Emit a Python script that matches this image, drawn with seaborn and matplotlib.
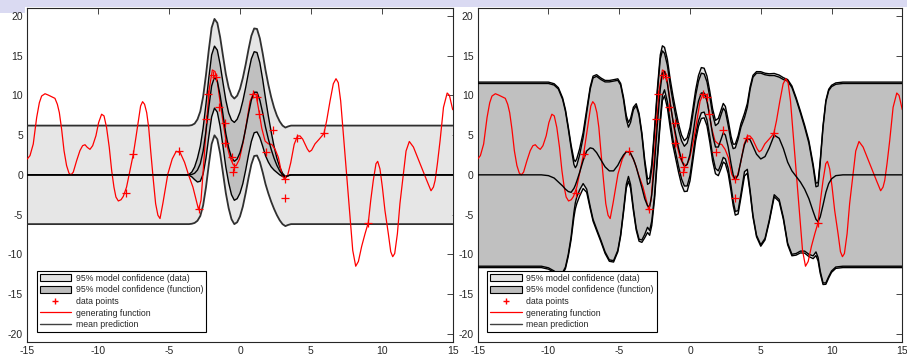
import numpy as np
import matplotlib
matplotlib.use("Agg")
import matplotlib.pyplot as plt
import seaborn as sns
import pandas as pd
from matplotlib.patches import Patch, Rectangle
from matplotlib.lines import Line2D

sns.set_theme(style="white")
plt.rcParams['font.family'] = ['Liberation Sans', 'DejaVu Sans']
plt.rcParams['axes.unicode_minus'] = False

# ---------------- data ----------------
gen_x = [-15, -14.81, -14.58, -14.34, -14.15, -13.99, -13.75, -13.52, -13.28, -13.05, -12.88, -12.74,
         -12.58, -12.41, -12.23, -12.06, -11.92, -11.76, -11.52, -11.29, -11.10, -10.93, -10.77,
         -10.58, -10.39, -10.16, -9.97, -9.76, -9.59, -9.41, -9.22, -9.05, -8.89, -8.75, -8.58,
         -8.39, -8.23, -8.0, -7.76, -7.52, -7.34, -7.17, -7.01, -6.87, -6.73, -6.58, -6.44, -6.30,
         -6.11, -5.95, -5.79, -5.64, -5.44, -5.09, -4.78, -4.5, -4.22, -3.91, -3.61, -3.32, -3.09,
         -2.92, -2.75, -2.58, -2.35, -2.16, -1.95, -1.76, -1.6, -1.41, -1.17, -0.94, -0.7, -0.47,
         -0.28, -0.04, 0.24, 0.48, 0.71, 0.95, 1.13, 1.3, 1.53, 1.77, 2.0, 2.24, 2.48, 2.71, 2.95,
         3.13, 3.35, 3.58, 3.82, 4.05, 4.23, 4.42, 4.58, 4.75, 4.89, 5.05, 5.29, 5.59, 5.92, 6.11,
         6.35, 6.58, 6.77, 6.93, 7.10, 7.29, 7.52, 7.76, 7.95, 8.16, 8.35, 8.58, 8.82, 9.05, 9.22,
         9.40, 9.59, 9.71, 9.87, 10.04, 10.22, 10.46, 10.63, 10.77, 10.91, 11.1, 11.28, 11.52,
         11.71, 11.94, 12.23, 12.70, 13.17, 13.47, 13.64, 13.76, 13.92, 14.11, 14.35, 14.61, 14.77,
         14.96, 15]
gen_y = [2.0, 2.42, 3.88, 7.21, 9.08, 9.92, 10.21, 10.04, 9.83, 9.63, 8.88, 7.83,
         5.75, 3.04, 1.17, 0.21, 0.0, 0.33, 1.79, 3.04, 3.67, 3.79, 3.46,
         3.21, 3.67, 4.92, 6.58, 7.63, 7.42, 5.96, 3.46, 0.54, -1.54, -2.79, -3.29,
         -3.13, -2.71, -1.54, 0.54, 2.63, 4.71, 6.79, 8.67, 9.21, 8.88, 7.83, 5.96, 3.04,
         -0.71, -3.63, -5.08, -5.5, -3.6, 0.1, 2.0, 2.96, 2.8, 1.58, -0.1, -1.54, -3.2,
         -4.4, -3.2, 0.9, 6.75, 10.9, 13.2, 13.0, 11.75, 9.25, 6.33, 3.83, 2.17, 1.25,
         1.13, 1.96, 4.25, 6.75, 9.25, 10.3, 10.08, 8.4, 5.9, 4.25, 3.9, 3.83, 3.2, 2.17, 0.08,
         -0.54, -0.13, 1.54, 3.83, 4.88, 4.9, 4.5, 3.9, 3.25, 2.9, 3.1, 3.9, 4.5, 5.2, 6.8,
         9.3, 11.46, 12.1, 11.6, 9.3, 5.1, 0.1, -5.3, -9.5, -11.5, -10.9, -9.0, -7.4, -6.0, -3.2,
         -0.7, 1.4, 1.7, 0.75, -1.54, -4.46, -7.4, -9.67, -10.3, -9.9, -7.4, -3.6, 0.1,
         3.0, 4.2, 3.5, 1.4, -0.7, -2.0, -1.54, -0.7, 1.4, 4.3, 8.5, 10.3, 10.0,
         8.5, 8.2]

pts_x = [-8.04, -7.52, -4.3, -2.89, -2.40, -2.23, -1.92, -1.70, -1.50, -1.07, -1.05, -0.54,
         -0.39, -0.51, 0.93, 1.18, 1.31, 1.82, 2.31, 3.19, 3.19, 4.05, 5.94, 9.05]
pts_y = [-2.25, 2.6, 3.0, -4.3, 7.0, 10.2, 12.6, 12.3, 8.5, 6.5, 4.0, 2.3,
         1.0, 0.3, 10.2, 9.8, 7.6, 2.9, 5.7, -0.5, -2.9, 4.6, 5.3, -6.0]

# left model: mean and half-width of the function band; noise half-width of the data band
L_x = [-15, -4.0, -3.8, -3.6, -3.4, -3.2, -3.0, -2.8, -2.6, -2.4, -2.2, -2.0, -1.8, -1.6, -1.4, -1.2,
       -1.0, -0.8, -0.6, -0.4, -0.2, 0.0, 0.2, 0.4, 0.6, 0.8, 1.0, 1.2, 1.4, 1.6, 1.8, 2.0, 2.2,
       2.4, 2.6, 2.8, 3.0, 3.2, 3.4, 3.6, 15]
L_mean = [0, 0, 0, 0, 0.05, 0.2, 0.6, 1.4, 3.0, 5.5, 8.5, 11.2, 12.3, 11.8, 10.0, 7.6,
          5.2, 3.4, 2.2, 1.7, 2.0, 2.8, 4.1, 5.8, 7.7, 9.4, 10.4, 10.4, 9.4, 7.8, 6.0, 4.5, 3.2,
          2.1, 1.2, 0.5, 0.0, -0.25, -0.1, 0, 0]
L_fun = [0, 0, 0, 0.05, 0.3, 0.8, 1.5, 2.2, 2.9, 3.4, 3.7, 3.9, 3.9, 3.9, 3.9, 4.0,
         4.2, 4.4, 4.7, 4.9, 5.0, 5.1, 5.2, 5.2, 5.2, 5.2, 5.1, 5.0, 4.7, 4.2, 3.6, 2.9, 2.2,
         1.5, 0.9, 0.5, 0.2, 0.05, 0, 0, 0]
L_noise = 6.2

# right model: mean and upper edge of the function band; noise half-width
R_x = [-15, -10.5, -10.0, -9.6, -9.3, -9.0, -8.8, -8.6, -8.4, -8.2, -8.1, -8.0, -7.8, -7.55, -7.3,
       -7.05, -6.85, -6.6, -6.3, -6.0, -5.7, -5.4, -5.1, -4.9, -4.7, -4.5, -4.35, -4.2, -4.0, -3.8,
       -3.6, -3.4, -3.2, -3.0, -2.85, -2.7, -2.5, -2.3, -2.1, -1.95, -1.8, -1.6, -1.4, -1.2, -1.0,
       -0.8, -0.6, -0.4, -0.2, 0.0, 0.2, 0.4, 0.6, 0.8, 1.0, 1.2, 1.4, 1.6, 1.8, 2.0, 2.2, 2.35,
       2.5, 2.7, 2.9, 3.05, 3.2, 3.4, 3.6, 3.85, 4.05, 4.25, 4.45, 4.7, 5.0, 5.3, 5.6, 5.95, 6.3,
       6.6, 6.9, 7.2, 7.5, 7.8, 8.1, 8.4, 8.7, 8.9, 9.05, 9.2, 9.4, 9.6, 9.8, 10.0, 10.3, 10.8, 15]
R_mean = [0, 0, -0.1, -0.4, -0.9, -1.4, -1.8, -2.1, -2.2, -1.7, -1.3, -0.8, 0.3, 1.8, 3.0,
          3.4, 3.3, 2.8, 1.9, 1.0, 0.5, 0.5, 1.2, 1.9, 2.5, 2.9, 2.9, 2.7, 2.0, 1.0,
          -0.3, -1.6, -3.0, -3.9, -4.0, -2.5, 1.5, 6.5, 10.8, 12.8, 13.0, 11.5, 9.0, 6.8, 5.0,
          3.3, 1.9, 1.1, 1.3, 2.6, 5.0, 7.5, 9.3, 10.3, 10.3, 9.3, 7.3, 5.0, 3.5, 3.5, 4.5, 5.3,
          5.0, 3.5, 1.4, 0.0, -0.6, 0.0, 1.8, 3.8, 4.6, 4.4, 3.6, 2.6, 2.0, 2.3, 3.4, 5.0, 4.6,
          3.3, 1.6, 0.5, -0.2, -0.9, -1.8, -3.0, -4.6, -5.6, -5.9, -5.3, -3.8, -2.2, -1.1, -0.5, -0.1, 0, 0]
R_upper = [11.5, 11.5, 11.5, 11.3, 10.8, 9.5, 8.0, 5.8, 3.4, 1.3, 0.9, 1.2, 2.5, 4.7, 7.8,
           10.8, 12.2, 12.4, 12.0, 11.7, 11.7, 11.8, 11.9, 11.3, 9.5, 7.0, 6.0, 6.6, 8.2, 8.7,
           7.5, 5.0, 1.5, -1.2, -1.0, 0.8, 5.5, 10.5, 14.6, 15.6, 15.3, 13.8, 11.3, 9.2, 7.3,
           5.6, 4.3, 3.6, 4.0, 5.3, 7.6, 10.0, 11.8, 12.8, 12.7, 11.7, 9.8, 7.6, 6.2, 6.5, 7.6, 8.4,
           8.0, 6.2, 4.2, 3.3, 3.4, 4.5, 6.0, 7.2, 8.5, 10.8, 12.3, 12.8, 12.8, 12.6, 12.5, 12.5, 12.3,
           12.0, 11.8, 11.0, 9.5, 7.8, 6.0, 4.0, 1.0, -1.5, -1.4, 1.5, 6.0, 9.2, 10.6, 11.1, 11.4, 11.5, 11.5]
R_noise = 2.0

# ---------------- figure ----------------
W, H = 907, 356
fig = plt.figure(figsize=(W / 100, H / 100), dpi=100)
fig.patch.set_facecolor('white')
fig.add_artist(Rectangle((0, 1 - 7 / H), 1, 7 / H, transform=fig.transFigure,
                         facecolor='#dadaf2', edgecolor='none', zorder=0))
fig.add_artist(Rectangle((0, 1 - 13 / H), 25 / W, 13 / H, transform=fig.transFigure,
                         facecolor='#dadaf2', edgecolor='none', zorder=0))

ax_h = (341.7 - 8) / H
ax_b = 1 - 341.7 / H
ax1 = fig.add_axes([27.3 / W, ax_b, 425.4 / W, ax_h])
ax2 = fig.add_axes([477.7 / W, ax_b, 424.6 / W, ax_h])

C_DAT = '#e6e6e6'
C_FUN = '#c0c0c0'


def draw(ax, mx, mean, fun, noise, dat_edge, dat_lw):
    mx = np.asarray(mx, float); mean = np.asarray(mean, float); fun = np.asarray(fun, float)
    dat = np.sqrt(fun ** 2 + noise ** 2)
    ax.fill_between(mx, mean - dat, mean + dat, facecolor=C_DAT, edgecolor='none', zorder=1)
    ax.fill_between(mx, mean - fun, mean + fun, facecolor=C_FUN, edgecolor='none', zorder=2)
    for arr, c, lw in [(mean + dat, dat_edge, dat_lw), (mean - dat, dat_edge, dat_lw),
                       (mean + fun, 'black', 1.0), (mean - fun, 'black', 1.0)]:
        ax.plot(mx, arr, color=c, lw=lw, zorder=3, solid_joinstyle='round')
    gen = pd.DataFrame({'x': gen_x, 'y': gen_y})
    sns.lineplot(data=gen, x='x', y='y', ax=ax, color='red', lw=0.9, sort=False, zorder=4)
    mdf = pd.DataFrame({'x': mx, 'y': mean})
    sns.lineplot(data=mdf, x='x', y='y', ax=ax, color='black', lw=1.0, sort=False, zorder=5)
    pdf = pd.DataFrame({'x': pts_x, 'y': pts_y})
    sns.scatterplot(data=pdf, x='x', y='y', ax=ax, marker='+', color='red', s=30,
                    linewidth=0.9, zorder=6)
    ax.set_xlim(-15, 15)
    ax.set_ylim(-21, 21)
    ax.set_xticks(range(-15, 16, 5))
    ax.set_yticks(range(-20, 21, 5))
    ax.set_xlabel('')
    ax.set_ylabel('')
    ax.tick_params(direction='in', top=True, right=True, length=4, width=0.6,
                   labelsize=7.5, colors='#262626', pad=3)
    for s in ax.spines.values():
        s.set_color('#262626')
        s.set_linewidth(0.8)
        s.set_visible(True)
    handles = [Patch(facecolor='#e3e3e3', edgecolor='black', lw=0.8),
               Patch(facecolor='#bdbdbd', edgecolor='black', lw=0.8),
               Line2D([], [], color='red', marker='+', ls='none', markersize=5),
               Line2D([], [], color='red', lw=0.9),
               Line2D([], [], color='#404040', lw=1.0)]
    labels = ['95% model confidence (data)', '95% model confidence (function)',
              'data points', 'generating function', 'mean prediction']
    leg = ax.legend(handles, labels, loc='lower left', bbox_to_anchor=(0.022, 0.028),
                    fontsize=6.3, frameon=True, fancybox=False, framealpha=1,
                    edgecolor='black', handlelength=3.6, handleheight=0.9,
                    labelspacing=0.3, borderpad=0.35, handletextpad=0.5, borderaxespad=0)
    leg.get_frame().set_linewidth(0.8)
    leg.set_zorder(10)


draw(ax1, L_x, L_mean, L_fun, L_noise, '#303030', 1.3)
R_fun = np.asarray(R_upper, float) - np.asarray(R_mean, float)
draw(ax2, R_x, R_mean, R_fun, R_noise, 'black', 1.0)

fig.savefig('out.png', dpi=100)
